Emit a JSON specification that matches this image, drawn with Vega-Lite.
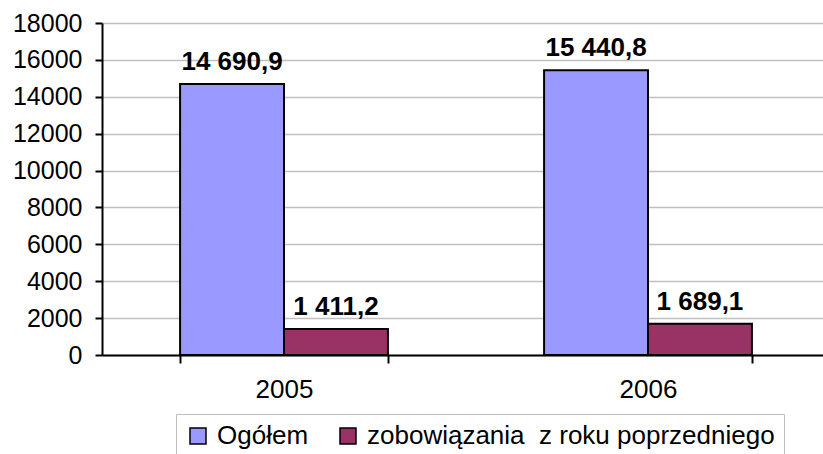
{
  "$schema": "https://vega.github.io/schema/vega-lite/v6.json",
  "width": 728,
  "height": 332,
  "autosize": {"type": "none"},
  "padding": {"left": 102, "top": 23, "right": 0, "bottom": 99},
  "background": "white",
  "config": {
    "view": {"stroke": null},
    "font": "Liberation Sans"
  },
  "data": {
    "values": [
      {"year": "2005", "series": "Ogółem", "value": 14690.9, "label": "14 690,9"},
      {"year": "2005", "series": "zobowiązania\u00a0 z roku poprzedniego", "value": 1411.2, "label": "1 411,2"},
      {"year": "2006", "series": "Ogółem", "value": 15440.8, "label": "15 440,8"},
      {"year": "2006", "series": "zobowiązania\u00a0 z roku poprzedniego", "value": 1689.1, "label": "1 689,1"}
    ]
  },
  "encoding": {
    "x": {
      "field": "year",
      "type": "nominal",
      "title": null,
      "scale": {"paddingInner": 0.429, "paddingOuter": 0.2145},
      "axis": {
        "labelAngle": 0,
        "labelFont": "Liberation Sans",
        "labelFontSize": 26,
        "labelColor": "black",
        "labelPadding": 13,
        "domainColor": "black",
        "domainWidth": 2,
        "tickColor": "black",
        "tickWidth": 2,
        "tickSize": 8,
        "tickBand": "extent",
        "grid": false
      }
    },
    "xOffset": {
      "field": "series",
      "type": "nominal",
      "sort": ["Ogółem", "zobowiązania\u00a0 z roku poprzedniego"],
      "scale": {"paddingInner": 0, "paddingOuter": 0}
    },
    "y": {
      "field": "value",
      "type": "quantitative",
      "title": null,
      "scale": {"domain": [0, 18000], "nice": false},
      "axis": {
        "values": [0, 2000, 4000, 6000, 8000, 10000, 12000, 14000, 16000, 18000],
        "format": "d",
        "labelFont": "Liberation Sans",
        "labelFontSize": 25,
        "labelColor": "black",
        "labelPadding": 13,
        "domainColor": "black",
        "domainWidth": 2,
        "tickColor": "black",
        "tickWidth": 2,
        "tickSize": 7,
        "grid": true,
        "gridColor": "#c0c0c0",
        "gridWidth": 1.5
      }
    }
  },
  "layer": [
    {
      "mark": {"type": "bar", "stroke": "black", "strokeWidth": 2},
      "encoding": {
        "color": {
          "field": "series",
          "type": "nominal",
          "sort": ["Ogółem", "zobowiązania\u00a0 z roku poprzedniego"],
          "scale": {"domain": ["Ogółem", "zobowiązania\u00a0 z roku poprzedniego"], "range": ["#9999FF", "#993366"]},
          "legend": {
            "title": null,
            "orient": "none",
            "legendX": 74,
            "legendY": 391,
            "direction": "horizontal",
            "symbolType": "square",
            "symbolSize": 256,
            "symbolStrokeColor": "black",
            "symbolStrokeWidth": 1.5,
            "labelFont": "Liberation Sans",
            "labelFontSize": 26,
            "labelColor": "black",
            "labelOffset": 6,
            "columnPadding": 26,
            "labelLimit": 600,
            "strokeColor": "#c0c0c0",
            "padding": 9,
            "fillColor": "white"
          }
        }
      }
    },
    {
      "mark": {"type": "text", "fontWeight": "bold", "fontSize": 26, "font": "Liberation Sans", "dy": -14, "baseline": "alphabetic", "color": "black"},
      "encoding": {
        "text": {"field": "label"}
      }
    }
  ]
}
